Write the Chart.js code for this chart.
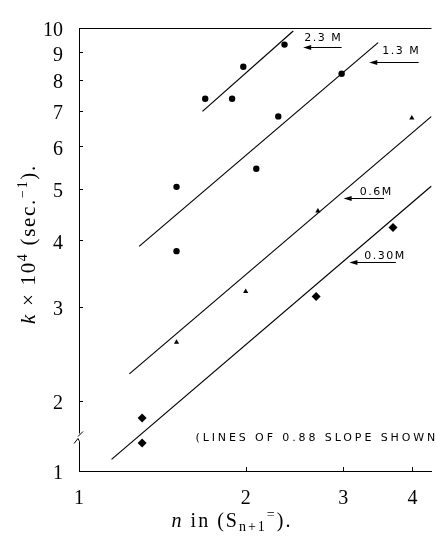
<!DOCTYPE html>
<html>
<head>
<meta charset="utf-8">
<script src="https://cdn.jsdelivr.net/npm/chart.js@4.4.0/dist/chart.umd.min.js"></script>
<style>
  html, body { margin: 0; padding: 0; background: #fff; }
</style>
</head>
<body>
<canvas id="rate-chart" width="436" height="540"></canvas>
<script>
// tick labels
var xTicks = [1, 2, 3, 4];
var yTicks = [2, 3, 4, 5, 6, 7, 8, 9, 10];
var yBottom = 1.48;   // axis is broken here, labelled "1"
var breakAt = 1.71;

// measured rate constants, n vs k x 10^4
var n23 = [1.69, 1.89, 1.98, 2.35];
var k23 = [7.37, 7.37, 8.46, 9.31];
var n13 = [1.50, 1.50, 2.09, 2.29, 2.98];
var k13 = [5.04, 3.82, 5.45, 6.83, 8.21];
var n06 = [1.50, 2.00, 2.70, 3.99];
var k06 = [2.58, 3.21, 4.54, 6.78];
var n030 = [1.30, 1.30, 2.68, 3.69];
var k030 = [1.86, 1.67, 3.14, 4.23];

// the 0.88 slope lines, end points
var line23 = { n: [1.671, 2.437], k: [6.98, 9.87] };
var line13 = { n: [1.284, 3.468], k: [3.90, 9.39] };
var line06 = { n: [1.233, 4.33], k: [2.25, 6.83] };
var line030 = { n: [1.145, 4.33], k: [1.556, 5.06] };

var notes = [
    { text: '2.3 M', x: 2.76, y: 9.58, tail: 2.98, head: 2.54, ay: 9.23 },
    { text: '1.3 M', x: 3.82, y: 9.04, tail: 4.105, head: 3.343, ay: 8.64 },
    { text: '0.6M', x: 3.44, y: 4.93, tail: 3.555, head: 3.005, ay: 4.81 },
    { text: '0.30M', x: 3.57, y: 3.74, tail: 3.734, head: 3.078, ay: 3.64 }
];
var footnote = { text: '(LINES OF 0.88 SLOPE SHOWN', x: 1.623, y: 1.706 };

function pts(xs, ys) {
    return xs.map(function (x, i) { return { x: x, y: ys[i] }; });
}

function pointSet(xs, ys, style, r) {
    return {
        data: pts(xs, ys),
        pointStyle: style,
        pointRadius: r,
        backgroundColor: '#000',
        borderColor: '#000',
        borderWidth: 0,
        showLine: false
    };
}

function lineSet(l) {
    return {
        data: pts(l.n, l.k),
        showLine: true,
        pointRadius: 0,
        borderColor: '#000',
        borderWidth: 1.2
    };
}

var serif = '"Liberation Serif", "DejaVu Serif", serif';

function drawRuns(ctx, runs, x, y) {
    runs.forEach(function (r) {
        ctx.font = r.font;
        ctx.fillText(r.t, x, y + (r.dy || 0));
        x += ctx.measureText(r.t).width;
    });
}

function runsWidth(ctx, runs) {
    var w = 0;
    runs.forEach(function (r) { ctx.font = r.font; w += ctx.measureText(r.t).width; });
    return w;
}

var decor = {
    id: 'decor',
    afterDraw: function (chart) {
        var ctx = chart.ctx, xs = chart.scales.x, ys = chart.scales.y, a = chart.chartArea;
        ctx.save();
        ctx.strokeStyle = '#000';
        ctx.fillStyle = '#000';
        ctx.lineWidth = 1;

        // top frame line
        ctx.beginPath();
        ctx.moveTo(a.left, a.top + 0.5);
        ctx.lineTo(a.right, a.top + 0.5);
        ctx.stroke();

        // inward tick marks
        ctx.beginPath();
        ys.ticks.forEach(function (t) {
            if (t.value === yBottom) return;
            var p = Math.round(ys.getPixelForValue(t.value)) + 0.5;
            ctx.moveTo(a.left, p);
            ctx.lineTo(a.left + 4, p);
        });
        xs.ticks.forEach(function (t) {
            if (t.value === 1) return;
            var p = Math.round(xs.getPixelForValue(t.value)) + 0.5;
            ctx.moveTo(p, a.bottom);
            ctx.lineTo(p, a.bottom - 4);
        });
        ctx.stroke();

        // axis break
        var pb = ys.getPixelForValue(breakAt);
        ctx.fillStyle = '#fff';
        ctx.fillRect(a.left - 3, pb - 4, 6, 8);
        ctx.fillStyle = '#000';
        ctx.beginPath();
        ctx.moveTo(a.left - 5, pb + 6);
        ctx.lineTo(a.left - 1, pb + 1);
        ctx.lineTo(a.left + 0.5, pb + 4);
        ctx.moveTo(a.left - 1, pb - 1);
        ctx.lineTo(a.left + 4, pb - 6);
        ctx.stroke();

        // concentration labels with arrows
        ctx.font = '11px "DejaVu Sans", sans-serif';
        ctx.letterSpacing = '1.5px';
        ctx.textAlign = 'center';
        ctx.textBaseline = 'middle';
        notes.forEach(function (nt) {
            ctx.fillText(nt.text, xs.getPixelForValue(nt.x), ys.getPixelForValue(nt.y));
            var ay = Math.round(ys.getPixelForValue(nt.ay)) + 0.5;
            var x1 = xs.getPixelForValue(nt.tail), x2 = xs.getPixelForValue(nt.head);
            ctx.beginPath();
            ctx.moveTo(x1, ay);
            ctx.lineTo(x2 + 5, ay);
            ctx.stroke();
            ctx.beginPath();
            ctx.moveTo(x2, ay);
            ctx.lineTo(x2 + 8, ay - 2.5);
            ctx.lineTo(x2 + 8, ay + 2.5);
            ctx.closePath();
            ctx.fill();
        });
        ctx.letterSpacing = '2.9px';
        ctx.textAlign = 'left';
        ctx.fillText(footnote.text, xs.getPixelForValue(footnote.x), ys.getPixelForValue(footnote.y));

        // axis titles
        ctx.textAlign = 'left';
        ctx.textBaseline = 'alphabetic';
        ctx.letterSpacing = '2px';
        var big = '20px ' + serif, bigI = 'italic 20px ' + serif, small = '14px ' + serif;
        var xRuns = [
            { t: 'n', font: bigI },
            { t: ' in (S', font: big },
            { t: 'n+1', font: small, dy: 4 },
            { t: '=', font: small, dy: -8 },
            { t: ').', font: big }
        ];
        var w = runsWidth(ctx, xRuns);
        drawRuns(ctx, xRuns, 232 - w / 2, 527);

        ctx.letterSpacing = '1.7px';
        big = '21px ' + serif; bigI = 'italic 21px ' + serif; small = '14px ' + serif;
        var yRuns = [
            { t: 'k', font: bigI },
            { t: ' \u00d7 10', font: big },
            { t: '4', font: small, dy: -8 },
            { t: ' (sec.', font: big },
            { t: '\u22121', font: small, dy: -8 },
            { t: ').', font: big }
        ];
        w = runsWidth(ctx, yRuns);
        ctx.translate(35, 244);
        ctx.rotate(-Math.PI / 2);
        drawRuns(ctx, yRuns, -w / 2, 0);
        ctx.restore();
    }
};

var ctx = document.getElementById('rate-chart');

var rateChart = new Chart(ctx, {
    type: 'scatter',
    data: {
        datasets: [
            pointSet(n23, k23, 'circle', 3.2),
            pointSet(n13, k13, 'circle', 3.2),
            pointSet(n06, k06, 'triangle', 3),
            pointSet(n030, k030, 'rectRot', 4.5),
            lineSet(line23),
            lineSet(line13),
            lineSet(line06),
            lineSet(line030)
        ]
    },
    options: {
        responsive: false,
        animation: false,
        layout: { padding: { top: 14, right: 0, left: 0, bottom: 0 } },
        plugins: {
            legend: { display: false },
            tooltip: { enabled: false }
        },
        scales: {
            x: {
                type: 'logarithmic',
                min: 1,
                max: 4.33,
                afterFit: function (s) { s.height = 69; },
                afterBuildTicks: function (s) {
                    s.ticks = xTicks.map(function (v) { return { value: v }; });
                },
                grid: { display: false, drawTicks: false },
                border: { display: true, color: '#000', width: 1 },
                ticks: {
                    color: '#000',
                    padding: 16,
                    font: { family: serif, size: 20 },
                    callback: function (v) { return String(v); }
                }
            },
            y: {
                type: 'logarithmic',
                min: yBottom,
                max: 10,
                afterFit: function (s) { s.width = 79; },
                afterBuildTicks: function (s) {
                    s.ticks = [{ value: yBottom }].concat(yTicks.map(function (v) { return { value: v }; }));
                },
                grid: { display: false, drawTicks: false },
                border: { display: true, color: '#000', width: 1 },
                ticks: {
                    color: '#000',
                    padding: 16,
                    labelOffset: 3,
                    font: { family: serif, size: 20 },
                    callback: function (v) { return v === yBottom ? '1' : String(v); }
                }
            }
        }
    },
    plugins: [decor]
});
</script>
</body>
</html>
